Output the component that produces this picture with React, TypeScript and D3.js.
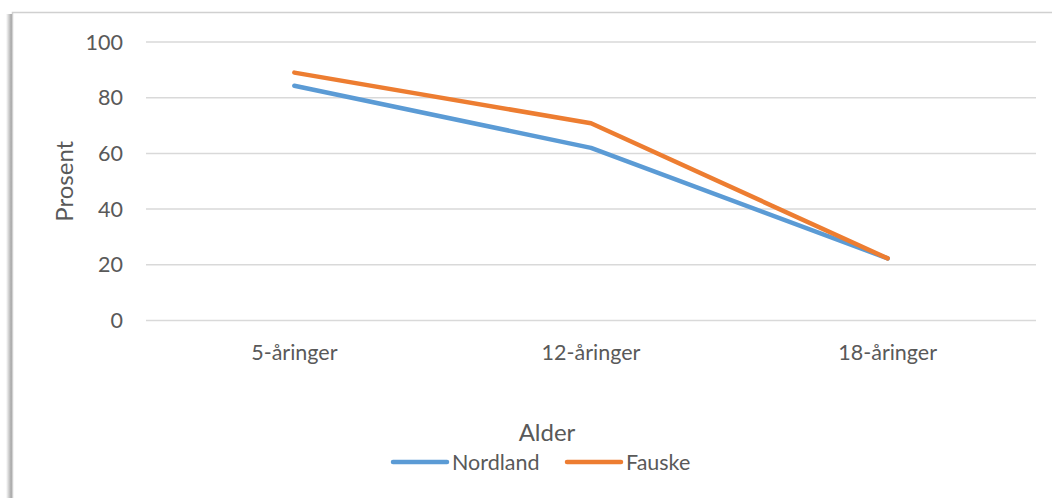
import React from "react";
import * as d3 from "d3";

const categories = ["5-åringer", "12-åringer", "18-åringer"];
const nordland = [84.3, 62.0, 22.3];
const fauske = [89.0, 70.8, 22.3];
const yTicks = [0, 20, 40, 60, 80, 100];
const seriesNames = ["Nordland", "Fauske"];
const colors = ["#5b9bd5", "#ed7d31"];

const W = 1052;
const H = 498;
const FONT = "Lato, 'Open Sans', sans-serif";
const TICK_SIZE = 21.5;
const TITLE_SIZE = 24;

export default function App() {
  const x = d3.scaleBand<string>().domain(categories).range([146, 1036]);
  const y = d3.scaleLinear().domain([0, 100]).range([320.5, 42]);
  const line = d3
    .line<number>()
    .x((_, i) => (x(categories[i]) as number) + x.bandwidth() / 2)
    .y((d) => y(d));
  const series = [nordland, fauske];
  const legendX = [393, 567];
  return (
    <svg width={W} height={H} style={{ position: "absolute", left: 0, top: 0, background: "#fff" }}>
      <defs>
        <linearGradient id="shadowL" x1="0" x2="1" y1="0" y2="0">
          <stop offset="0" stopColor="#fff" />
          <stop offset="1" stopColor="#8a8a8a" />
        </linearGradient>
      </defs>
      <rect x={6} y={14} width={7} height={H} fill="url(#shadowL)" />
      <rect x={12.5} y={12.5} width={W + 10} height={H + 10} fill="#fff" stroke="#d0d0d0" strokeWidth={1.5} />
      {yTicks.map((t) => (
        <g key={t}>
          <line x1={146} x2={1036} y1={y(t)} y2={y(t)} stroke="#d9d9d9" strokeWidth={1.5} />
          <text x={123} y={y(t)} dy="0.35em" textAnchor="end" fontFamily={FONT} fontSize={TICK_SIZE} fill="#595959">
            {t}
          </text>
        </g>
      ))}
      {categories.map((c) => (
        <text
          key={c}
          x={(x(c) as number) + x.bandwidth() / 2}
          y={360}
          textAnchor="middle"
          fontFamily={FONT}
          fontSize={TICK_SIZE}
          fill="#595959"
        >
          {c}
        </text>
      ))}
      <text
        transform={`translate(73,${y(50)}) rotate(-90)`}
        textAnchor="middle"
        fontFamily={FONT}
        fontSize={TITLE_SIZE}
        fill="#595959"
      >
        Prosent
      </text>
      <text x={547} y={441} textAnchor="middle" fontFamily={FONT} fontSize={TITLE_SIZE} fill="#595959">
        Alder
      </text>
      {series.map((s, i) => (
        <path
          key={i}
          d={line(s) || ""}
          fill="none"
          stroke={colors[i]}
          strokeWidth={4.5}
          strokeLinecap="round"
          strokeLinejoin="round"
        />
      ))}
      {seriesNames.map((n, i) => (
        <g key={n}>
          <line x1={legendX[i]} x2={legendX[i] + 54} y1={462} y2={462} stroke={colors[i]} strokeWidth={4.5} strokeLinecap="round" />
          <text x={legendX[i] + 59} y={462} dy="0.35em" fontFamily={FONT} fontSize={TICK_SIZE} fill="#595959">
            {n}
          </text>
        </g>
      ))}
    </svg>
  );
}
